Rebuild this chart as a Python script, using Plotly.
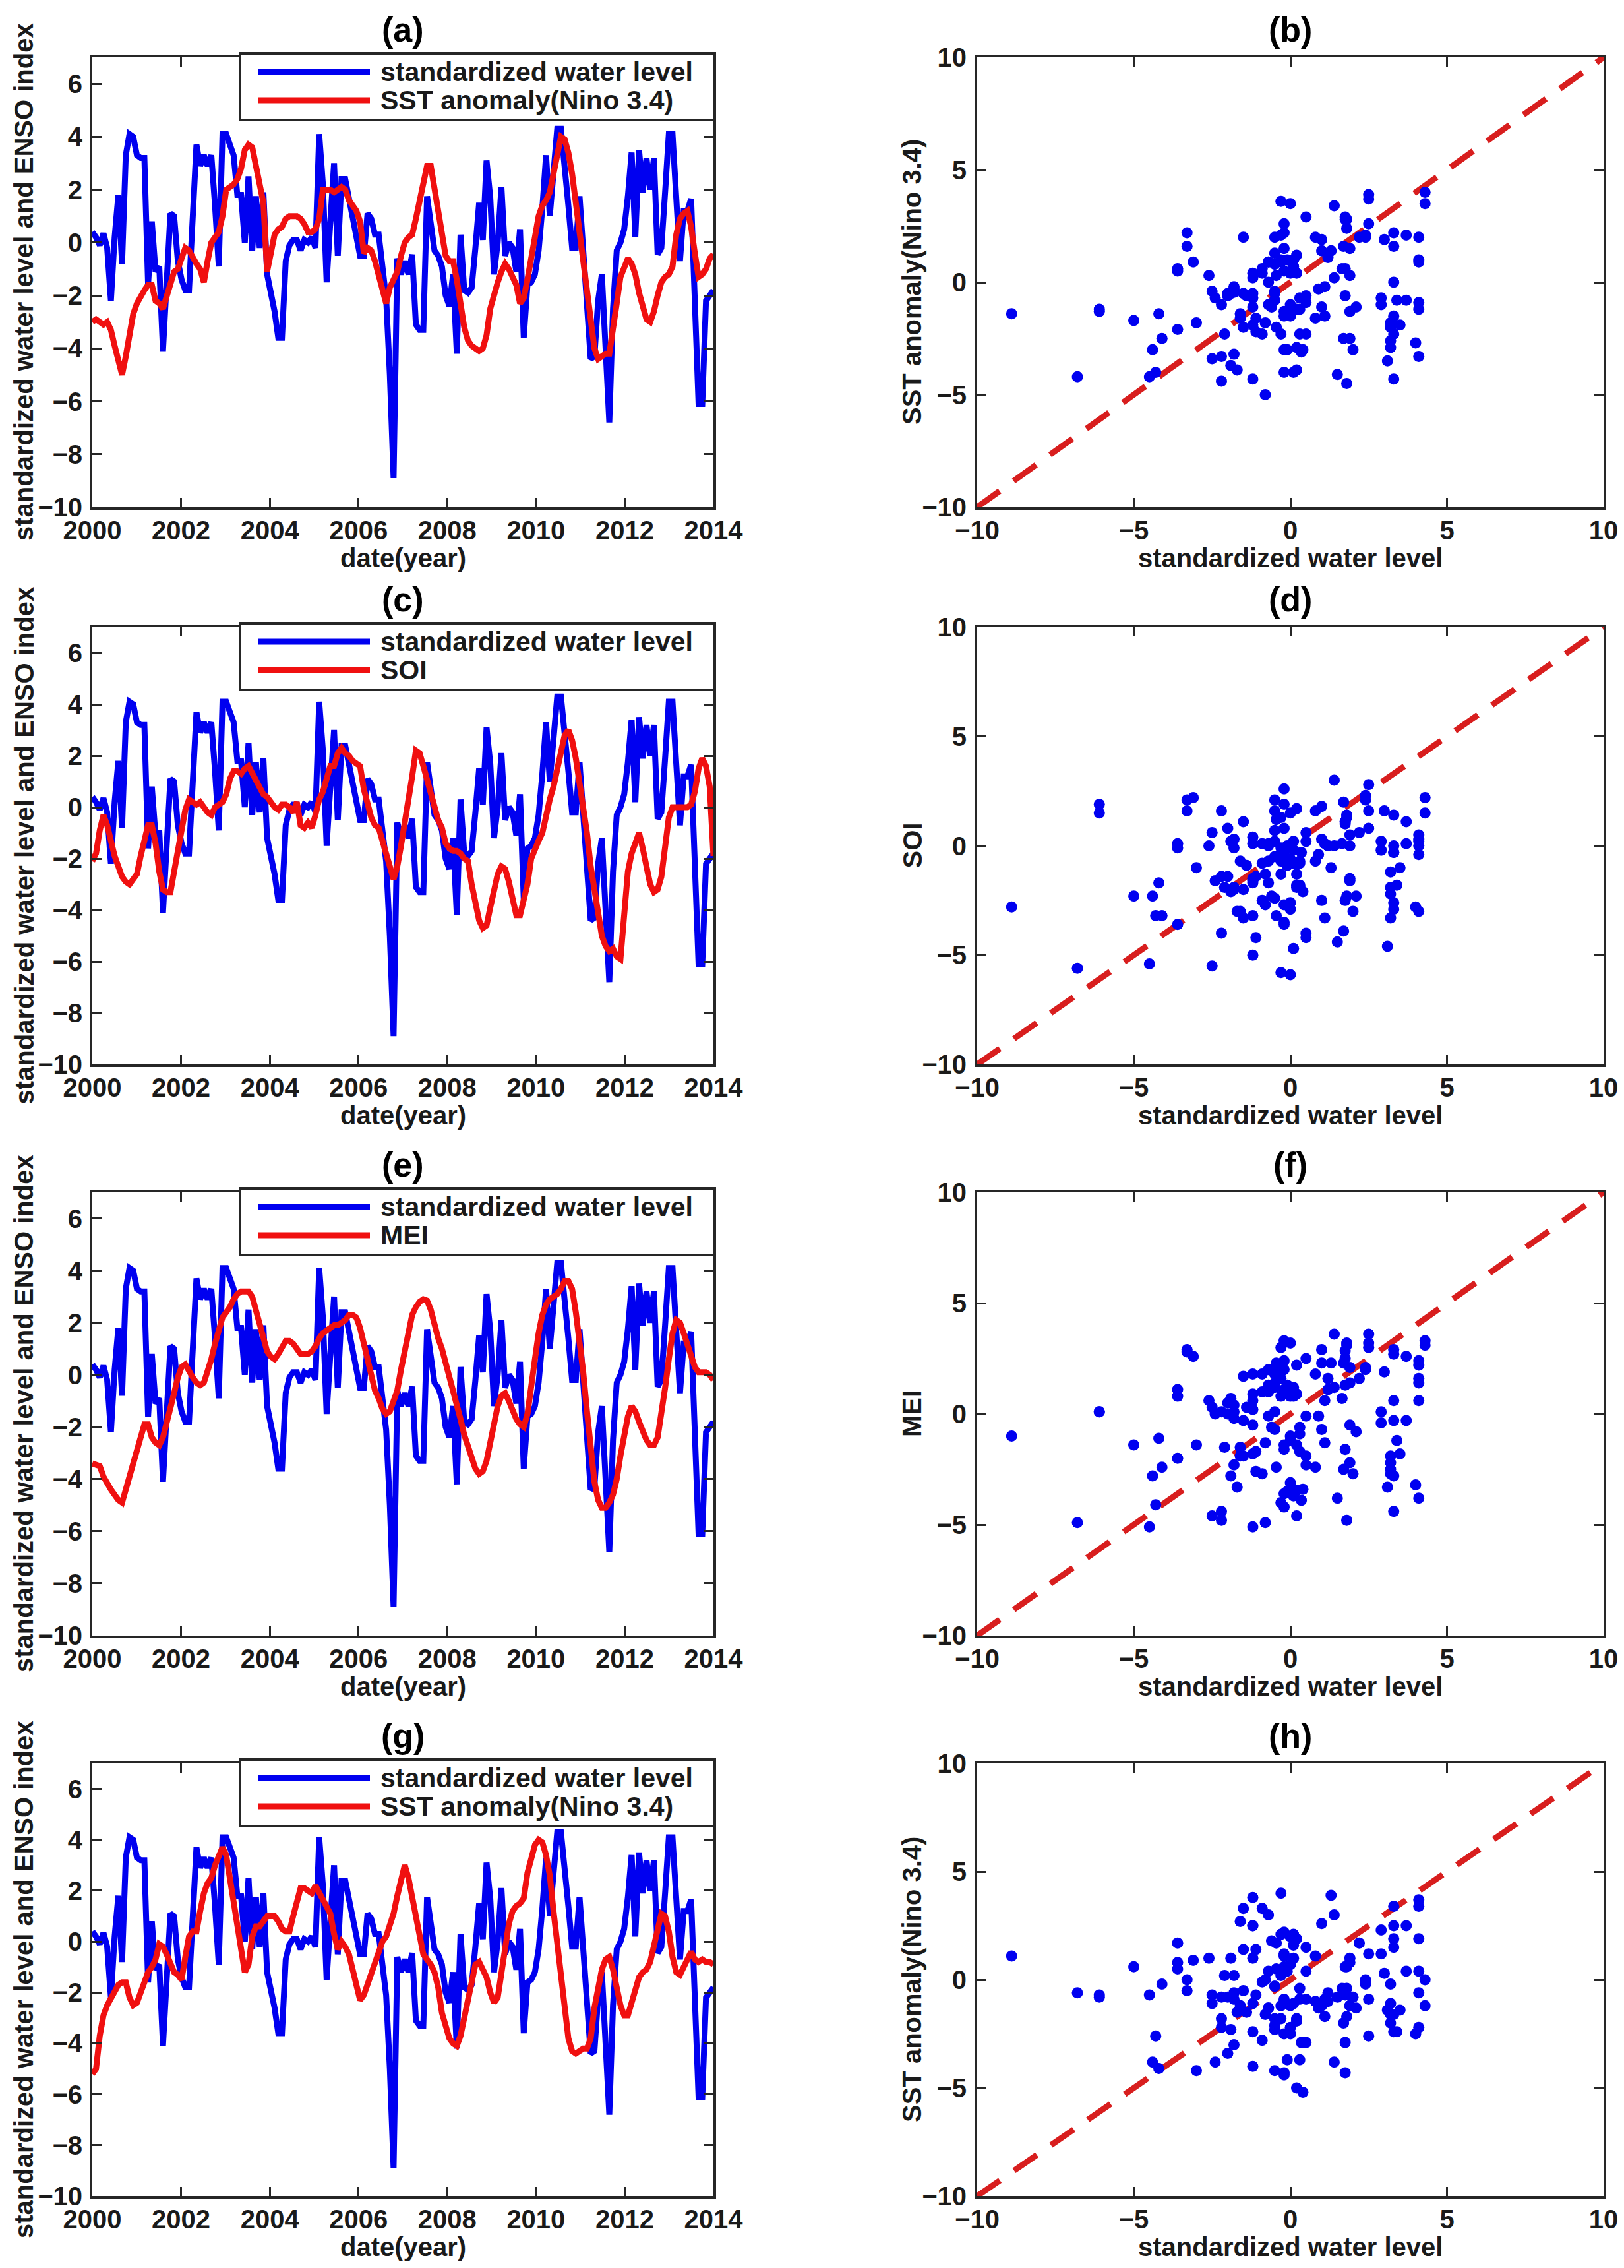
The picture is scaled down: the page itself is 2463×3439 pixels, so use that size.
import plotly.graph_objects as go

# Page is 2463 x 3439; the browser adds an 8 px body margin, so the figure is
# placed at (8, 8) and every position below is given in page pixels.
PAGE_W, PAGE_H = 2463, 3439
OFF = 8
W, H = PAGE_W - OFF, PAGE_H - 2 * OFF

FONT = "Liberation Sans, Arial, Helvetica, sans-serif"
INK = "#1a1a1a"
BLUE = "#0000f0"
RED = "#f01010"
DASH_RED = "#d81e1e"

# ---------------- data (monthly, Jan 2000 - Dec 2013) ----------------
water_level = [
    0.4, 0.2, -0.1, 0.35, -0.2, -2.2, 0.2, 1.8, -0.8, 3.3,
    4.1, 4.0, 3.3, 3.2, 3.2, -1.6, 0.8, -1.1, -0.9, -4.1,
    -1.5, 1.1, 1.0, -0.7, -1.4, -1.8, -1.8, 0.5, 3.7, 2.9,
    3.3, 2.9, 3.3, 1.4, -0.9, 4.1, 4.1, 3.7, 3.3, 1.8,
    1.8, 0.0, 2.5, -0.3, 1.75, -0.2, 1.9, -1.2, -1.9, -2.6,
    -3.6, -3.6, -0.7, -0.1, 0.1, 0.1, -0.3, 0.1, 0.0, 0.2,
    -0.2, 4.1, 2.2, -1.5, 0.8, 3.0, -0.5, 2.4, 2.4, 1.7,
    1.0, 0.2, -0.5, -0.5, 1.1, 0.9, 0.3, 0.3, -0.8, -2.1,
    -5.0, -8.9, -0.6, -1.2, -0.7, -1.2, -0.45, -3.1, -3.3, -3.3,
    1.75, 0.5, -0.3, -0.5, -0.9, -2.0, -2.4, -1.2, -4.2, 0.3,
    -1.8, -1.9, -1.7, -0.2, 1.5, 0.1, 3.1, 1.7, -1.2, 0.0,
    2.1, -0.5, 0.0, -0.2, -1.1, 0.5, -3.6, -1.6, -1.5, -1.2,
    -0.3, 1.3, 3.3, 1.0, 2.5, 4.3, 4.3, 2.5, 1.4, -0.2,
    -0.2, 1.75, -0.5, -3.0, -4.4, -4.3, -2.2, -1.2, -4.5, -6.8,
    -2.5, -0.3, 0.0, 0.5, 1.75, 3.4, 0.2, 3.5, 1.9, 3.2,
    2.0, 3.2, -0.45, -0.2, 1.9, 4.1, 4.1, 1.9, -0.7, 1.2,
    1.2, 1.65, -2.5, -6.1, -6.1, -2.2, -2.0, -1.8,
]

sst_anomaly = [
    -3.0, -2.9, -3.0, -3.1, -3.0, -3.3, -3.9, -4.5, -5.0, -4.3,
    -3.3, -2.7, -2.3, -2.0, -1.8, -1.6, -1.6, -2.2, -2.3, -2.5,
    -2.0, -1.5, -1.1, -1.0, -0.6, -0.2, -0.3, -0.6, -0.8, -1.0,
    -1.5, -0.7, 0.0, 0.2, 0.4, 1.0, 2.0, 2.1, 2.2, 2.4,
    2.8, 3.5, 3.7, 3.6, 2.8, 2.2, 1.5, -1.1, -0.5, 0.3,
    0.5, 0.6, 0.9, 1.0, 1.0, 1.0, 0.9, 0.7, 0.4, 0.4,
    0.5, 0.9, 2.0, 2.0, 2.0, 1.9, 2.0, 2.1, 2.0, 1.6,
    1.4, 1.2, 0.8, -0.4, -0.2, -0.3, -0.7, -1.2, -1.8, -2.3,
    -1.7, -1.4, -1.1, -0.5, 0.0, 0.2, 0.3, 0.9, 1.6, 2.2,
    2.9, 2.9, 2.1, 1.3, 0.6, -0.5, -0.7, -0.7, -1.4, -2.3,
    -3.2, -3.7, -3.9, -4.0, -4.1, -4.0, -3.5, -2.5, -1.9, -1.5,
    -1.1, -0.8, -1.0, -1.3, -1.6, -2.3, -2.1, -1.4, -0.5, 0.4,
    1.0, 1.4, 1.6, 1.9, 2.6, 3.5, 4.0, 3.9, 3.4, 2.6,
    1.5, 0.6, -0.5, -1.8, -3.0, -4.0, -4.4, -4.3, -4.2, -4.2,
    -3.4, -2.3, -1.3, -0.9, -0.6, -0.8, -1.2, -1.9, -2.5, -2.9,
    -3.0, -2.6, -2.0, -1.5, -1.3, -1.2, -0.9, 0.3, 0.9, 1.1,
    1.2, 0.6, -0.4, -1.3, -1.2, -1.0, -0.6, -0.45,
]

soi = [
    -2.1, -1.8, -0.9, -0.3, -0.7, -1.4, -1.9, -2.3, -2.7, -2.9,
    -3.0, -2.8, -2.6, -1.9, -1.2, -0.7, -0.7, -1.4, -2.5, -3.2,
    -3.3, -3.3, -2.5, -1.7, -0.9, -0.1, 0.3, 0.2, 0.1, 0.2,
    0.0, -0.2, -0.3, 0.0, 0.1, 0.2, 0.5, 1.1, 1.4, 1.4,
    1.3, 1.5, 1.6, 1.3, 1.1, 0.8, 0.5, 0.4, 0.2, 0.0,
    -0.1, 0.1, 0.1, 0.0, -0.2, 0.2, -0.7, -0.8, -0.6, -0.8,
    -0.3, 0.3, 0.6, 1.1, 1.6, 1.6, 2.1, 2.3, 2.1, 2.0,
    1.8, 1.7, 1.6, 0.7, 0.1, -0.4, -0.7, -0.8, -1.3, -1.9,
    -2.3, -2.8, -2.3, -1.5, -0.7, 0.1, 1.2, 2.2, 2.1, 1.6,
    1.1, 0.6, -0.1, -0.5, -0.8, -1.4, -1.6, -1.7, -1.7, -1.8,
    -2.0, -2.1, -3.0, -3.6, -4.4, -4.7, -4.6, -3.9, -3.2, -2.6,
    -2.3, -2.4, -2.9, -3.5, -4.2, -4.2, -3.6, -3.0, -2.0, -1.6,
    -1.3, -1.0, -0.3, 0.3, 0.8, 1.5, 2.2, 2.8, 3.0, 2.6,
    1.9, 1.0, 0.2, -1.0, -2.3, -3.2, -4.0, -5.0, -5.4, -5.6,
    -5.5, -5.8, -5.9, -4.0, -2.5, -1.8, -1.3, -1.0, -1.6, -2.2,
    -3.0, -3.3, -3.2, -2.7, -1.5, -0.4, 0.0, 0.0, 0.0, 0.0,
    0.0, 0.1, 0.6, 1.5, 1.9, 1.6, 0.8, -1.9,
]

mei = [
    -3.4, -3.45, -3.5, -3.9, -4.2, -4.4, -4.6, -4.8, -4.9, -4.4,
    -3.8, -3.2, -2.8, -2.2, -1.9, -1.9, -2.4, -2.6, -2.7, -2.4,
    -1.9, -1.3, -0.7, -0.1, 0.3, 0.4, 0.1, -0.1, -0.3, -0.4,
    -0.3, 0.1, 0.6, 1.2, 1.8, 2.2, 2.4, 2.6, 2.9, 3.1,
    3.2, 3.2, 3.2, 3.0, 2.5, 2.0, 1.4, 0.9, 0.7, 0.6,
    0.8, 1.1, 1.3, 1.3, 1.2, 1.0, 0.8, 0.8, 0.8, 0.9,
    1.1, 1.4, 1.6, 1.7, 1.8, 1.9, 1.9, 2.0, 2.1, 2.3,
    2.3, 2.2, 1.8, 1.2, 0.6, -0.1, -0.6, -0.9, -1.3, -1.5,
    -1.4, -1.0, -0.6, 0.2, 1.0, 1.8, 2.3, 2.6, 2.8, 2.9,
    2.85, 2.5, 1.9, 1.4, 1.0, 0.5, 0.0, -0.5, -1.1, -1.7,
    -2.3, -2.8, -3.3, -3.6, -3.8, -3.7, -3.3, -2.5, -1.8, -1.2,
    -0.8, -0.7, -1.0, -1.4, -1.7, -1.9, -2.0, -1.5, -0.3, 0.6,
    1.6, 2.3, 2.7, 2.9, 3.0, 3.1, 3.3, 3.6, 3.6, 3.3,
    2.4, 1.3, 0.1, -1.4, -2.8, -4.1, -4.8, -5.1, -5.1, -4.9,
    -4.6, -4.0, -3.1, -2.3, -1.6, -1.2, -1.4, -1.8, -2.2, -2.5,
    -2.7, -2.7, -2.4, -1.6, -0.5, 0.6, 1.6, 2.1, 2.0, 1.6,
    1.1, 0.7, 0.3, 0.1, 0.1, 0.1, 0.0, -0.2,
]

sst_anomaly_lead = [
    -5.2, -5.0, -3.7, -2.9, -2.5, -2.2, -1.9, -1.7, -1.6, -1.6,
    -2.2, -2.5, -2.4, -2.0, -1.6, -1.2, -1.0, -0.7, -0.1, -0.2,
    -0.5, -0.9, -1.2, -1.3, -1.5, -0.6, 0.2, 0.4, 0.4, 1.2,
    1.9, 2.3, 2.5, 3.0, 3.3, 3.7, 3.4, 2.5, 1.5, 0.6,
    -0.4, -1.2, -0.9, 0.2, 0.6, 0.6, 0.8, 1.0, 1.0, 1.0,
    0.8, 0.5, 0.4, 0.4, 1.0, 1.6, 2.1, 2.1, 2.0, 1.9,
    2.2, 1.9, 1.7, 1.4, 1.1, 0.3, -0.3, 0.0, -0.2, -0.5,
    -1.1, -1.9, -2.3, -2.1, -1.7, -1.3, -0.9, -0.4, 0.0, 0.2,
    0.6, 1.1, 1.8, 2.5, 3.0, 2.5, 1.7, 0.9, 0.0, -0.5,
    -0.7, -0.9, -1.2, -1.8, -2.8, -3.4, -3.8, -4.0, -4.1, -3.7,
    -3.0, -2.3, -1.5, -0.9, -0.8, -1.1, -1.4, -2.0, -2.4, -2.2,
    -1.3, -0.3, 0.7, 1.2, 1.4, 1.5, 1.7, 2.7, 3.3, 3.8,
    4.0, 3.9, 3.4, 2.6, 1.2, 0.0, -1.2, -2.6, -3.8, -4.3,
    -4.4, -4.3, -4.2, -4.2, -3.8, -2.6, -1.8, -1.1, -0.7, -0.6,
    -1.1, -1.8, -2.5, -2.9, -2.9, -2.4, -1.8, -1.4, -1.2, -1.1,
    -0.8, -0.2, 0.5, 1.1, 1.0, 0.4, -0.6, -1.2, -1.3, -1.0,
    -0.6, -0.4, -0.7, -0.8, -0.7, -0.8, -0.8, -0.9,
]

n_months = len(water_level)
years = [2000 + 14 * k / (n_months - 1) for k in range(n_months)]

panel_labels = [("(a)", "(b)"), ("(c)", "(d)"), ("(e)", "(f)"), ("(g)", "(h)")]
index_names = ["SST anomaly(Nino 3.4)", "SOI", "MEI", "SST anomaly(Nino 3.4)"]
index_series = [sst_anomaly, soi, mei, sst_anomaly_lead]

year_ticks = [2000, 2002, 2004, 2006, 2008, 2010, 2012, 2014]
ts_yticks = [-10, -8, -6, -4, -2, 0, 2, 4, 6]
sc_ticks = [-10, -5, 0, 5, 10]
diag = [-10, 10]

# ---------------- layout geometry (page pixels) ----------------
LEFT_X = (140, 1082)
RIGHT_X = (1482, 2432)
ROWS = [(87, 769), (951, 1614), (1808, 2480), (2674, 3330)]


def px(x):
    return (x - OFF) / W


def py(y):
    return 1 - (y - OFF) / H


fig = go.Figure()
annotations = []
shapes = []

tick_font = dict(family=FONT, size=40, color=INK, weight="bold")
lab_font = dict(family=FONT, size=40, color=INK, weight="bold")
leg_font = dict(family=FONT, size=41, color=INK, weight="bold")
ttl_font = dict(family=FONT, size=52, color="#000000", weight="bold")

axis_common = dict(
    showgrid=False, zeroline=False, showline=True, linecolor="#262626",
    linewidth=4, mirror="ticks", ticks="inside", ticklen=14, tickwidth=3,
    tickcolor="#262626", tickfont=tick_font, automargin=False,
    ticklabeloverflow="allow",
)

layout_axes = {}
for r, (top, bot) in enumerate(ROWS):
    li = 2 * r + 1
    ri = 2 * r + 2
    ydom = [py(bot), py(top)]
    layout_axes[f"xaxis{li}"] = dict(
        axis_common, domain=[px(LEFT_X[0]), px(LEFT_X[1])], range=[2000, 2014],
        tickvals=year_ticks, anchor=f"y{li}", ticklabelstandoff=-3,
    )
    layout_axes[f"yaxis{li}"] = dict(
        axis_common, domain=ydom, range=[-10, 7], tickvals=ts_yticks,
        anchor=f"x{li}", ticklabelstandoff=3,
    )
    layout_axes[f"xaxis{ri}"] = dict(
        axis_common, domain=[px(RIGHT_X[0]), px(RIGHT_X[1])], range=[-10, 10],
        tickvals=sc_ticks, anchor=f"y{ri}", ticklabelstandoff=-3,
    )
    layout_axes[f"yaxis{ri}"] = dict(
        axis_common, domain=ydom, range=[-10, 10], tickvals=sc_ticks,
        anchor=f"x{ri}", ticklabelstandoff=4,
    )

    series = index_series[r]
    name = index_names[r]
    xs = "x" if li == 1 else f"x{li}"
    ys = "y" if li == 1 else f"y{li}"

    fig.add_trace(go.Scatter(
        x=years, y=water_level, mode="lines", name="standardized water level",
        line=dict(color=BLUE, width=9), xaxis=xs, yaxis=ys, showlegend=False,
    ))
    fig.add_trace(go.Scatter(
        x=years, y=series, mode="lines", name=name,
        line=dict(color=RED, width=9), xaxis=xs, yaxis=ys, showlegend=False,
    ))
    fig.add_trace(go.Scatter(
        x=diag, y=diag, mode="lines", line=dict(color=DASH_RED, width=9, dash="42px,26px"),
        xaxis=f"x{ri}", yaxis=f"y{ri}", showlegend=False, hoverinfo="skip",
    ))
    fig.add_trace(go.Scatter(
        x=water_level, y=series, mode="markers", name=name,
        marker=dict(color=BLUE, size=17, line=dict(width=0)),
        xaxis=f"x{ri}", yaxis=f"y{ri}", showlegend=False,
    ))

    lcx = (LEFT_X[0] + LEFT_X[1]) / 2
    rcx = (RIGHT_X[0] + RIGHT_X[1]) / 2
    for lab, cx in zip(panel_labels[r], (lcx, rcx)):
        annotations.append(dict(
            text=lab, x=px(cx), y=py(top - 42), xref="paper", yref="paper",
            xanchor="center", yanchor="middle", showarrow=False, font=ttl_font,
        ))
    annotations.append(dict(
        text="date(year)", x=px(lcx), y=py(bot + 77), xref="paper", yref="paper",
        xanchor="center", yanchor="middle", showarrow=False, font=lab_font,
    ))
    annotations.append(dict(
        text="standardized water level", x=px(rcx), y=py(bot + 77), xref="paper",
        yref="paper", xanchor="center", yanchor="middle", showarrow=False, font=lab_font,
    ))
    cy = (top + bot) / 2
    annotations.append(dict(
        text="standardized water level and ENSO index", x=px(36), y=py(cy),
        xref="paper", yref="paper", xanchor="center", yanchor="middle",
        textangle=-90, showarrow=False, font=lab_font,
    ))
    annotations.append(dict(
        text=name, x=px(1383), y=py(cy), xref="paper", yref="paper",
        xanchor="center", yanchor="middle", textangle=-90, showarrow=False,
        font=lab_font,
    ))

    # legend box (drawn by hand to match the long MATLAB line samples)
    shapes.append(dict(
        type="rect", xref="paper", yref="paper", x0=px(364), x1=px(LEFT_X[1] + 2),
        y0=py(top + 95), y1=py(top - 6), fillcolor="white",
        line=dict(color="#262626", width=4), layer="above",
    ))
    for k, (lbl, col) in enumerate((("standardized water level", BLUE), (name, RED))):
        yy = top + 22 + 43 * k
        shapes.append(dict(
            type="line", xref="paper", yref="paper", x0=px(392), x1=px(561),
            y0=py(yy), y1=py(yy), line=dict(color=col, width=9), layer="above",
        ))
        annotations.append(dict(
            text=lbl, x=px(575), y=py(yy), xref="paper", yref="paper",
            xanchor="left", yanchor="middle", showarrow=False, font=leg_font,
        ))

fig.update_layout(
    width=W, height=H, margin=dict(l=0, r=0, t=0, b=0, pad=0),
    autosize=False,
    paper_bgcolor="white", plot_bgcolor="white",
    showlegend=False, annotations=annotations, shapes=shapes,
    font=dict(family=FONT, color=INK),
    **layout_axes,
)

fig.write_html("out.html")
